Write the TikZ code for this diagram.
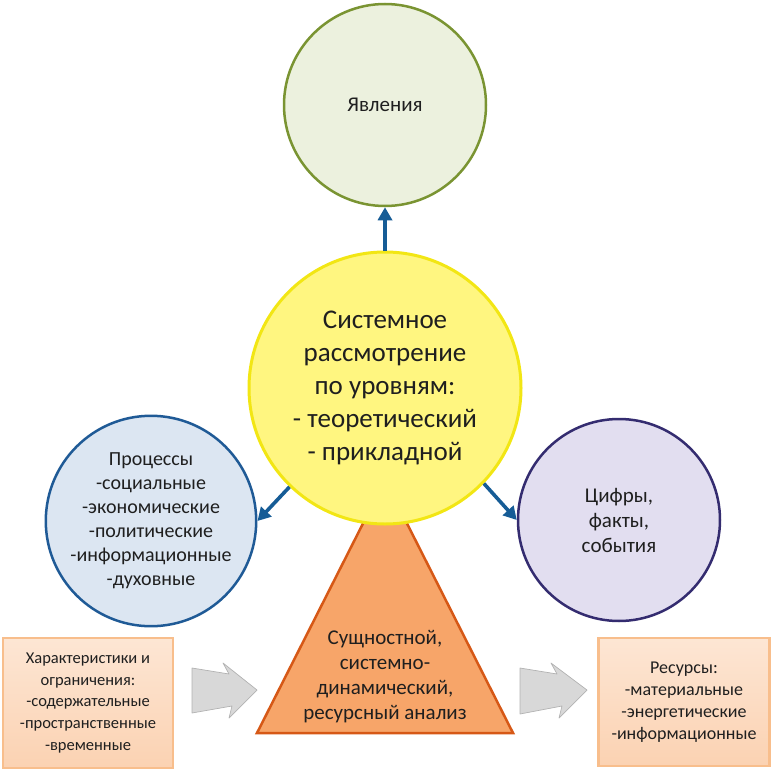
\documentclass[tikz,border=0pt]{standalone}
\usepackage{fontspec}
\setmainfont{Carlito}
\usetikzlibrary{positioning,arrows.meta}
\definecolor{yavfill}{RGB}{236,241,222}
\definecolor{yavline}{RGB}{122,148,50}
\definecolor{sysfill}{RGB}{255,246,128}
\definecolor{sysline}{RGB}{242,230,20}
\definecolor{procfill}{RGB}{220,230,242}
\definecolor{procline}{RGB}{31,90,150}
\definecolor{datafill}{RGB}{226,222,240}
\definecolor{dataline}{RGB}{52,44,112}
\definecolor{trifill}{RGB}{247,165,105}
\definecolor{triline}{RGB}{214,88,22}
\definecolor{boxtop}{RGB}{253,230,212}
\definecolor{boxbot}{RGB}{251,210,178}
\definecolor{boxline}{RGB}{248,190,140}
\definecolor{linkblue}{RGB}{22,92,150}
\definecolor{arrgray}{RGB}{216,216,216}
\definecolor{arrline}{RGB}{178,178,178}
\tikzset{
  bubble/.style={circle, draw, line width=2.5pt, inner sep=0pt, align=center, text=black!88},
  infobox/.style={draw=boxline, line width=2.5pt, top color=boxtop, bottom color=boxbot,
    inner sep=0pt, align=center, text=black!88, font=\fontsize{16.5}{21.6}\selectfont},
  link/.style={draw=linkblue, line width=3.6pt, -{Triangle[length=13pt,width=14pt]}},
  greyarrow/.style={fill=arrgray, draw=arrline, line width=0.7pt, line join=round},
}

\begin{document}
\begin{tikzpicture}[x=1pt,y=-1pt]
		\useasboundingbox (0,0) rectangle (772,771);
		\filldraw[fill=trifill, draw=triline, line width=2.5pt] (385,480)--(513,733)--(257,733)--cycle;
		
		\node[bubble, fill=sysfill, draw=sysline, line width=3pt, minimum size=272pt,
		  font=\fontsize{27}{33}\selectfont] (sys) at (385,388)
		  {Системное\\рассмотрение\\по уровням:\\- теоретический\\- прикладной};
		\node[bubble, fill=yavfill, draw=yavline, minimum size=202pt,
		  font=\fontsize{21}{25}\selectfont] (yav) at (385,105) {Явления};
		\node[bubble, fill=procfill, draw=procline, minimum size=200pt,
		  font=\fontsize{20}{24}\selectfont] (proc) at (151,521)
		  {Процессы\\-социальные\\-экономические\\-политические\\-информационные\\-духовные};
		\node[bubble, fill=datafill, draw=dataline, minimum size=202pt,
		  font=\fontsize{21}{25}\selectfont] (data) at (619,520)
		  {Цифры,\\факты,\\события};
		\node[align=center, text=black!88, font=\fontsize{21}{25}\selectfont] (tri) at (385,677)
		  {Сущностной,\\системно-\\динамический,\\ресурсный анализ};
		
		\node[infobox, minimum width=170pt, minimum height=130pt] (har) at (88,703)
		  {Характеристики и\\ограничения:\\-содержательные\\-пространственные\\-временные};
		\node[infobox, minimum width=171pt, minimum height=128pt,
		  font=\fontsize{18}{21.8}\selectfont] (res) at (684,702)
		  {Ресурсы:\\-материальные\\-энергетические\\-информационные};
		
		\draw[link] (sys) -- (yav);
		\draw[link] (sys.226) -- (proc.east);
		\draw[link] (sys.-44) -- (data.west);
		
		\filldraw[greyarrow] (192,668)--(229,674)--(223,663)--(257,690)--(229,718)--(232,706)--(192,713)--cycle;
		\filldraw[greyarrow, xshift=328pt] (192,668)--(229,674)--(223,663)--(259,690)--(231,718)--(234,706)--(192,714)--cycle;
	\end{tikzpicture}
\end{document}
